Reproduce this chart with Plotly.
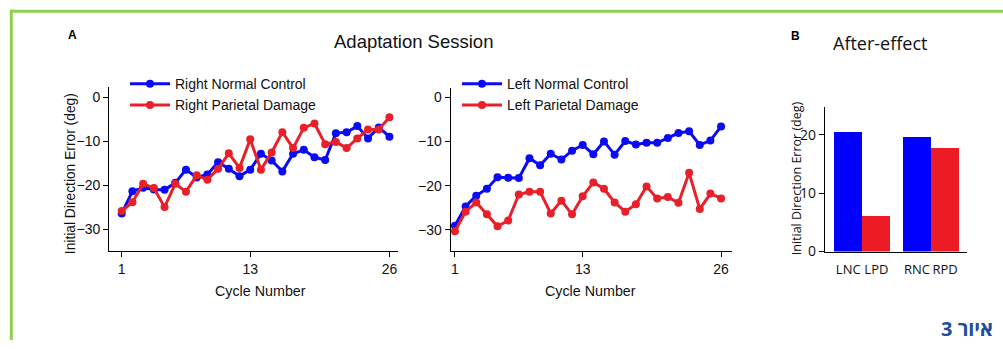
import plotly.graph_objects as go

# ---------------- data ----------------
cycles = list(range(1, 27))
right_normal_control = [-26.4, -21.3, -20.5, -20.9, -21.0, -19.4, -16.4, -18.2, -17.5, -14.7,
                        -16.2, -17.9, -16.4, -12.8, -14.3, -16.8, -12.8, -11.9, -13.6, -14.2,
                        -8.1, -7.9, -6.5, -9.3, -6.8, -8.9]
right_parietal_damage = [-25.8, -23.8, -19.6, -20.6, -24.9, -19.6, -21.4, -17.7, -18.7, -16.2,
                         -12.7, -16.0, -9.5, -16.4, -12.5, -7.9, -11.5, -6.9, -5.9, -10.6,
                         -10.1, -11.5, -9.3, -7.3, -7.3, -4.5]
left_normal_control = [-29.1, -24.7, -22.3, -20.7, -18.1, -18.2, -18.3, -13.8, -15.4, -12.8,
                       -14.1, -12.1, -10.8, -12.9, -10.0, -13.0, -9.9, -10.7, -10.3, -10.3,
                       -9.2, -8.1, -7.7, -10.8, -9.8, -6.6]
left_parietal_damage = [-30.3, -25.9, -23.8, -26.5, -29.2, -27.9, -22.0, -21.4, -21.4, -26.3,
                        -23.4, -26.5, -22.4, -19.3, -20.7, -23.8, -25.9, -24.2, -20.2, -22.9,
                        -22.6, -23.9, -17.1, -25.3, -21.8, -22.9]
cycle_ticks = [1, 13, 26]
error_ticks = [0, -10, -20, -30]

bar_labels = ["LNC", "LPD", "RNC", "RPD"]
bar_values = [20.6, 6.2, 19.6, 17.8]
bar_ticks = [0, 10, 20]

# ---------------- style ----------------
W, H = 1003, 349
BLUE = "#0a0af5"
RED = "#e8202a"
BAR_BLUE = "#0000ff"
BAR_RED = "#ed1c24"
ARIAL = "Liberation Sans, Arial, sans-serif"
MYRIAD = "Open Sans, Noto Sans, sans-serif"


def px_x(p):
    return p / W


def px_y(p):
    return 1 - p / H


fig = go.Figure()


def add_line(x, y, name, color, xa, ya, leg):
    fig.add_trace(go.Scatter(x=x, y=y, name=name, mode="lines+markers",
                             line=dict(color=color, width=3),
                             marker=dict(color=color, size=8),
                             xaxis=xa, yaxis=ya, legend=leg))


add_line(cycles, right_normal_control, "Right Normal Control", BLUE, "x", "y", "legend")
add_line(cycles, right_parietal_damage, "Right Parietal Damage", RED, "x", "y", "legend")
add_line(cycles, left_normal_control, "Left Normal Control", BLUE, "x2", "y2", "legend2")
add_line(cycles, left_parietal_damage, "Left Parietal Damage", RED, "x2", "y2", "legend2")

# bar positions: groups L / R, each with NC (left) and PD (right) bars touching
bar_width = 0.41
sides = ["L", "R"]
bar_x = []
bar_colors = []
for lab in bar_labels:
    g = sides.index(lab[0])
    is_nc = lab.endswith("NC")
    bar_x.append(g + (-0.5 if is_nc else 0.5) * bar_width)
    bar_colors.append(BAR_BLUE if is_nc else BAR_RED)

fig.add_trace(go.Bar(x=bar_x, y=bar_values, width=bar_width, marker_color=bar_colors,
                     marker_line=dict(width=0), xaxis="x3", yaxis="y3", showlegend=False))

axis_common = dict(showline=True, linecolor="black", linewidth=1.3, showgrid=False,
                   zeroline=False, ticks="outside", ticklen=5, tickwidth=1.3,
                   tickcolor="black", tickfont=dict(family=ARIAL, size=14, color="#111"))

fig.update_layout(
    width=W, height=H,
    margin=dict(l=0, r=0, t=0, b=0),
    paper_bgcolor="white", plot_bgcolor="white",
    xaxis=dict(domain=[px_x(109.3), px_x(398)], range=[-0.16, 26.8], tickvals=cycle_ticks,
               anchor="y", **axis_common),
    yaxis=dict(domain=[px_y(257.2), px_y(89.7)], range=[-34.8, 2.3], tickvals=error_ticks,
               anchor="x", **axis_common),
    xaxis2=dict(domain=[px_x(450.7), px_x(731.7)], range=[0.6, 27.0], tickvals=cycle_ticks,
                anchor="y2", **axis_common),
    yaxis2=dict(domain=[px_y(257.2), px_y(90.3)], range=[-34.7, 2.1], tickvals=error_ticks,
                anchor="x2", **axis_common),
    xaxis3=dict(domain=[px_x(825), px_x(966.7)], range=[-0.543, 1.52], tickvals=bar_x,
                ticktext=bar_labels, anchor="y3",
                **{**axis_common, "tickcolor": "rgba(0,0,0,0)", "ticklen": 6,
                   "tickfont": dict(family=MYRIAD, size=13, color="#111")}),
    yaxis3=dict(domain=[px_y(258.2), px_y(109.4)], range=[0, 24.8], tickvals=bar_ticks,
                anchor="x3",
                **{**axis_common, "tickfont": dict(family=MYRIAD, size=14, color="#111")}),
    legend=dict(x=px_x(125), y=px_y(70), xanchor="left", yanchor="top",
                bgcolor="rgba(0,0,0,0)", font=dict(family=ARIAL, size=14, color="#111"),
                itemwidth=40, tracegroupgap=0),
    legend2=dict(x=px_x(457), y=px_y(70), xanchor="left", yanchor="top",
                 bgcolor="rgba(0,0,0,0)", font=dict(family=ARIAL, size=14, color="#111"),
                 itemwidth=40, tracegroupgap=0),
    bargap=0,
)

annotations = [
    dict(text="<b>A</b>", x=px_x(72.5), y=px_y(35.5), font=dict(family=ARIAL, size=12, color="black")),
    dict(text="Adaptation Session", x=px_x(413.5), y=px_y(43), font=dict(family=ARIAL, size=18.5, color="#111")),
    dict(text="<b>B</b>", x=px_x(795.5), y=px_y(36.5), font=dict(family=ARIAL, size=12, color="black")),
    dict(text="After-effect", x=px_x(880), y=px_y(44), font=dict(family=MYRIAD, size=18, color="#111")),
    dict(text="Cycle Number", x=px_x(260.5), y=px_y(298.4), font=dict(family=ARIAL, size=14.3, color="#111")),
    dict(text="Cycle Number", x=px_x(590), y=px_y(298.4), font=dict(family=ARIAL, size=14.3, color="#111")),
    dict(text="Initial Direction Error (deg)", x=px_x(70), y=px_y(178.8), textangle=-90,
         font=dict(family=ARIAL, size=13.8, color="#111")),
    dict(text="Initial Direction Error (deg)", x=px_x(796), y=px_y(183), textangle=-90,
         font=dict(family=MYRIAD, size=12.5, color="#111")),
]
for a in annotations:
    a.update(xref="paper", yref="paper", showarrow=False, xanchor="center", yanchor="middle")
annotations.append(dict(text="<b>איור 3</b>", x=px_x(995), y=px_y(337.5), xref="paper", yref="paper",
                        showarrow=False, xanchor="right", yanchor="middle",
                        font=dict(family="Open Sans, Noto Sans, sans-serif", size=20, color="#1f4e9d")))
fig.update_layout(annotations=annotations)

# green frame (top and left edges of the figure box)
GREEN = "#92d050"
fig.add_shape(type="line", xref="paper", yref="paper", x0=px_x(10), x1=1.0,
              y0=px_y(11.5), y1=px_y(11.5), line=dict(color=GREEN, width=3))
fig.add_shape(type="line", xref="paper", yref="paper", x0=px_x(11.3), x1=px_x(11.3),
              y0=px_y(10), y1=0.0, line=dict(color=GREEN, width=3))

fig.write_html("out.html", config={"displayModeBar": False},
               post_script="document.body.style.margin='0px';document.body.style.overflow='hidden';")
